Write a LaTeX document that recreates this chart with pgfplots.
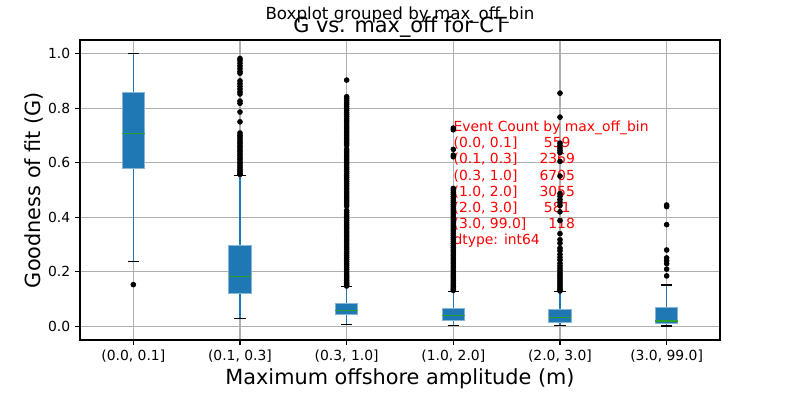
\documentclass[border=0pt]{standalone}
\usepackage{fontspec}
\setmainfont{DejaVu Sans}
\usepackage{pgfplots}
\pgfplotsset{compat=1.18}
\usepgfplotslibrary{statistics}
\definecolor{C0}{RGB}{31,119,180}
\definecolor{C2}{RGB}{44,160,44}
\definecolor{gridgray}{RGB}{176,176,176}
\pgfplotsset{
  mpl box/.style={
    mark=*, mark size=1.8pt, mark options={fill=black, draw=black, solid},
    black,
    boxplot/draw direction=y,
    boxplot/box extend=0.21,
    boxplot/whisker extend=0.105,
    boxplot/every box/.style={fill=C0, draw=C0!55!white, line width=0.6pt},
    boxplot/every median/.style={draw=C2, line width=0.9pt},
    boxplot/draw/lower whisker/.code={%
      \draw[C0, line width=0.9pt]
        (boxplot box cs:\pgfplotsboxplotvalue{lower whisker},0.5) --
        (boxplot box cs:\pgfplotsboxplotvalue{lower quartile},0.5);
      \draw[black, line width=0.9pt]
        (boxplot whisker cs:\pgfplotsboxplotvalue{lower whisker},0) --
        (boxplot whisker cs:\pgfplotsboxplotvalue{lower whisker},1);
    },
    boxplot/draw/upper whisker/.code={%
      \draw[C0, line width=0.9pt]
        (boxplot box cs:\pgfplotsboxplotvalue{upper whisker},0.5) --
        (boxplot box cs:\pgfplotsboxplotvalue{upper quartile},0.5);
      \draw[black, line width=0.9pt]
        (boxplot whisker cs:\pgfplotsboxplotvalue{upper whisker},0) --
        (boxplot whisker cs:\pgfplotsboxplotvalue{upper whisker},1);
    },
  },
}
\begin{document}
\begin{tikzpicture}
\path[use as bounding box] (-57.6pt,-43.2pt) rectangle (518.4pt,244.8pt);
\begin{axis}[
  at={(0pt,0pt)}, anchor=south west,
  scale only axis, width=460.8pt, height=216pt,
  xmin=0.5, xmax=6.5, ymin=-0.05, ymax=1.05,
  xtick={1,2,3,4,5,6},
  xticklabels={{(0.0, 0.1]},{(0.1, 0.3]},{(0.3, 1.0]},{(1.0, 2.0]},{(2.0, 3.0]},{(3.0, 99.0]}},
  ytick={0,0.2,0.4,0.6,0.8,1.0},
  yticklabel style={/pgf/number format/fixed, /pgf/number format/fixed zerofill, /pgf/number format/precision=1},
  /pgf/number format/assume math mode=true,
  tick label style={font=\fontsize{10}{12}\selectfont, text=black},
  grid=major,
  major grid style={draw=gridgray, line width=0.8pt},
  axis line style={line width=0.8pt, black},
  tick style={line width=0.8pt, black},
  major tick length=3.5pt,
  tick align=outside,
  tick pos=left,
  clip=false,
]
\node[anchor=base west, inner sep=0pt, text=red, font=\fontsize{10}{11.66}\selectfont]
  at (axis cs:4,0.7145) {\begin{tabular}[t]{@{}l@{}}
Event Count by max\_off\_bin\\
(0.0, 0.1]~~~~~~559\\
(0.1, 0.3]~~~~~2369\\
(0.3, 1.0]~~~~~6705\\
(1.0, 2.0]~~~~~3055\\
(2.0, 3.0]~~~~~~581\\
(3.0, 99.0]~~~~~118\\
dtype: int64
\end{tabular}};

% (0.0, 0.1]
\addplot[mpl box, boxplot prepared={draw position=1,
  lower whisker=0.238, lower quartile=0.580, median=0.706,
  upper quartile=0.858, upper whisker=1.0}]
  table[row sep=\\, y index=0] {data\\ 0.153\\};

% (0.1, 0.3]
\addplot[mpl box, boxplot prepared={draw position=2,
  lower whisker=0.029, lower quartile=0.121, median=0.182,
  upper quartile=0.297, upper whisker=0.554}]
  table[row sep=\\, y index=0] {data\\
  0.982\\ 0.975\\ 0.965\\ 0.955\\ 0.945\\ 0.935\\ 0.928\\ 0.900\\ 0.890\\ 0.880\\
  0.870\\ 0.860\\ 0.852\\ 0.826\\ 0.818\\ 0.786\\ 0.750\\
  0.709\\ 0.701\\ 0.694\\ 0.686\\ 0.678\\ 0.671\\ 0.663\\ 0.656\\ 0.648\\ 0.641\\
  0.633\\ 0.626\\ 0.618\\ 0.611\\ 0.603\\ 0.596\\ 0.588\\ 0.581\\ 0.574\\ 0.567\\
  0.561\\ 0.557\\};

% (0.3, 1.0]
\addplot[mpl box, boxplot prepared={draw position=3,
  lower whisker=0.006, lower quartile=0.043, median=0.059,
  upper quartile=0.084, upper whisker=0.145}]
  table[row sep=\\, y index=0] {data\\
  0.903\\ 0.842\\ 0.836\\ 0.829\\ 0.821\\ 0.814\\ 0.806\\ 0.799\\ 0.792\\ 0.784\\
  0.776\\ 0.769\\ 0.761\\ 0.754\\ 0.747\\ 0.739\\ 0.731\\ 0.724\\ 0.716\\ 0.709\\
  0.701\\ 0.694\\ 0.686\\ 0.679\\ 0.671\\ 0.664\\ 0.650\\ 0.643\\ 0.636\\ 0.628\\
  0.621\\ 0.613\\ 0.606\\ 0.598\\ 0.591\\ 0.583\\ 0.576\\ 0.568\\ 0.561\\ 0.553\\
  0.546\\ 0.538\\ 0.531\\ 0.523\\ 0.516\\ 0.508\\ 0.501\\ 0.493\\ 0.486\\ 0.478\\
  0.471\\ 0.463\\ 0.456\\ 0.448\\ 0.441\\ 0.425\\ 0.418\\ 0.410\\ 0.403\\ 0.395\\
  0.388\\ 0.380\\ 0.373\\ 0.365\\ 0.358\\ 0.350\\ 0.343\\ 0.335\\ 0.328\\ 0.320\\
  0.313\\ 0.305\\ 0.298\\ 0.290\\ 0.283\\ 0.275\\ 0.268\\ 0.260\\ 0.253\\ 0.245\\
  0.238\\ 0.230\\ 0.223\\ 0.215\\ 0.208\\ 0.200\\ 0.193\\ 0.186\\ 0.180\\ 0.174\\
  0.168\\ 0.162\\ 0.157\\ 0.152\\ 0.148\\};

% (1.0, 2.0]
\addplot[mpl box, boxplot prepared={draw position=4,
  lower whisker=0.003, lower quartile=0.023, median=0.040,
  upper quartile=0.067, upper whisker=0.127}]
  table[row sep=\\, y index=0] {data\\
  0.727\\ 0.721\\ 0.649\\ 0.628\\ 0.622\\ 0.506\\ 0.499\\ 0.491\\ 0.484\\ 0.476\\
  0.469\\ 0.461\\ 0.454\\ 0.446\\ 0.439\\ 0.431\\ 0.424\\ 0.416\\ 0.409\\ 0.401\\
  0.394\\ 0.386\\ 0.379\\ 0.371\\ 0.364\\ 0.356\\ 0.349\\ 0.341\\ 0.334\\ 0.326\\
  0.319\\ 0.311\\ 0.304\\ 0.296\\ 0.289\\ 0.281\\ 0.274\\ 0.266\\ 0.259\\ 0.251\\
  0.244\\ 0.236\\ 0.229\\ 0.221\\ 0.214\\ 0.206\\ 0.199\\ 0.192\\ 0.186\\ 0.180\\
  0.174\\ 0.168\\ 0.162\\ 0.156\\ 0.151\\ 0.146\\ 0.141\\ 0.136\\ 0.132\\};

% (2.0, 3.0]
\addplot[mpl box, boxplot prepared={draw position=5,
  lower whisker=0.002, lower quartile=0.015, median=0.032,
  upper quartile=0.061, upper whisker=0.127}]
  table[row sep=\\, y index=0] {data\\
  0.855\\ 0.767\\ 0.672\\ 0.663\\ 0.654\\ 0.645\\ 0.637\\ 0.605\\ 0.551\\ 0.487\\
  0.477\\ 0.465\\ 0.454\\ 0.443\\ 0.420\\ 0.388\\ 0.340\\ 0.318\\ 0.305\\ 0.287\\
  0.277\\ 0.264\\ 0.253\\ 0.243\\ 0.231\\ 0.222\\ 0.214\\ 0.206\\ 0.198\\ 0.190\\
  0.183\\ 0.176\\ 0.169\\ 0.162\\ 0.155\\ 0.148\\ 0.141\\ 0.135\\ 0.130\\};

% (3.0, 99.0]
\addplot[mpl box, boxplot prepared={draw position=6,
  lower whisker=0.001, lower quartile=0.009, median=0.020,
  upper quartile=0.068, upper whisker=0.152}]
  table[row sep=\\, y index=0] {data\\
  0.445\\ 0.439\\ 0.373\\ 0.280\\ 0.251\\ 0.241\\ 0.230\\ 0.210\\ 0.185\\};
\end{axis}
\node[anchor=base, inner sep=0pt, font=\fontsize{12}{14}\selectfont] at (230.4pt,230.4pt) {Boxplot grouped by max\_off\_bin};
\node[anchor=base, inner sep=0pt, font=\fontsize{15}{18}\selectfont] at (230.4pt,221.5pt) {G vs. max\_off for CT};
\node[anchor=base, inner sep=0pt, font=\fontsize{15}{18}\selectfont] at (230.4pt,-31.7pt) {Maximum offshore amplitude (m)};
\node[anchor=base, rotate=90, inner sep=0pt, font=\fontsize{15}{18}\selectfont] at (-28.1pt,108pt) {Goodness of fit (G)};
\end{tikzpicture}
\end{document}
